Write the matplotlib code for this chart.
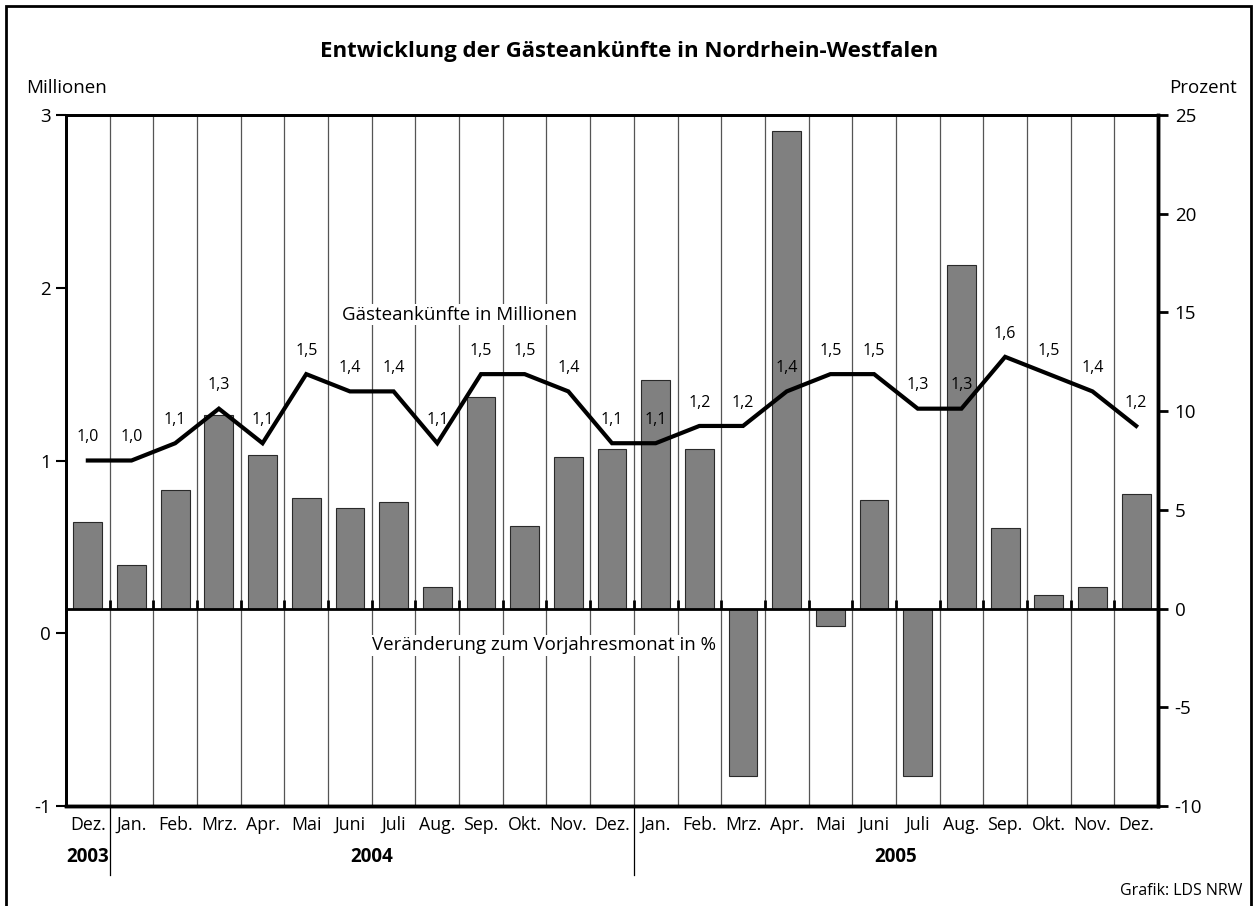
import matplotlib

matplotlib.use("Agg")
import matplotlib.pyplot as plt
from matplotlib.patches import Rectangle

plt.rcParams["font.family"] = ["Open Sans", "DejaVu Sans"]

months = ["Dez.", "Jan.", "Feb.", "Mrz.", "Apr.", "Mai", "Juni", "Juli", "Aug.", "Sep.",
          "Okt.", "Nov.", "Dez.", "Jan.", "Feb.", "Mrz.", "Apr.", "Mai", "Juni", "Juli",
          "Aug.", "Sep.", "Okt.", "Nov.", "Dez."]
arrivals = [1.0, 1.0, 1.1, 1.3, 1.1, 1.5, 1.4, 1.4, 1.1, 1.5, 1.5, 1.4, 1.1,
            1.1, 1.2, 1.2, 1.4, 1.5, 1.5, 1.3, 1.3, 1.6, 1.5, 1.4, 1.2]
change_pct = [4.4, 2.2, 6.0, 9.8, 7.8, 5.6, 5.1, 5.4, 1.1, 10.7, 4.2, 7.7, 8.1,
              11.6, 8.1, -8.5, 24.2, -0.9, 5.5, -8.5, 17.4, 4.1, 0.7, 1.1, 5.8]
years = ["2003", "2004", "2005"]
year_spans = [(0, 0), (1, 12), (13, 24)]

W, H = 1257, 906
fig = plt.figure(figsize=(W / 100, H / 100), dpi=100)

# outer frame
fig.patches.append(Rectangle((6 / W, -0.01), (1251 - 6) / W, 900 / H + 0.01,
                             transform=fig.transFigure, fill=False, lw=2, ec="black"))

x0, x1, y0, y1 = 66, 1158, 115, 806
ax = fig.add_axes([x0 / W, 1 - y1 / H, (x1 - x0) / W, (y1 - y0) / H])
ax2 = ax.twinx()
ax.set_zorder(ax2.get_zorder() + 1)
ax.patch.set_visible(False)

n = len(months)
xs = list(range(n))

# percent bars on right axis
ax2.bar(xs, change_pct, width=0.66, color="#808080", edgecolor="#2a2a2a", lw=0.8, zorder=3)
for b in range(n - 1):
    ax2.axvline(b + 0.5, color="#555555", lw=0.9, zorder=1)
    ax2.vlines(b + 0.5, 0, 0.45, color="black", lw=2, zorder=4)
ax2.axhline(0, color="black", lw=2, zorder=4)
ax2.set_ylim(-10, 25)
ax2.set_yticks([-10, -5, 0, 5, 10, 15, 20, 25])
ax2.set_yticklabels(["-10", "-5", "0", "5", "10", "15", "20", "25"])
ax2.tick_params(axis="y", length=7, width=2, labelsize=13.5, pad=5)

# arrivals line on left axis
ax.plot(xs, arrivals, color="black", lw=3, solid_joinstyle="miter", zorder=5)
for xi, v in zip(xs, arrivals):
    ax.text(xi, v + 0.135, f"{v:.1f}".replace(".", ","), ha="center", va="center",
            fontsize=11.5)
ax.set_xlim(-0.5, n - 0.5)
ax.set_ylim(-1, 3)
ax.set_yticks([-1, 0, 1, 2, 3])
ax.set_yticklabels(["-1", "0", "1", "2", "3"])
ax.tick_params(axis="y", length=7, width=1.5, labelsize=13.5, pad=4)
ax.set_xticks(xs)
ax.set_xticklabels([])
ax.tick_params(axis="x", length=0)

# month labels on a common baseline
for xi, m in zip(xs, months):
    ax.text(xi, -0.035, m, transform=ax.get_xaxis_transform(), ha="center",
            va="baseline", fontsize=12.8)

for a in (ax, ax2):
    a.spines["left"].set_linewidth(2)
    a.spines["right"].set_linewidth(2.5)
    a.spines["top"].set_linewidth(2)
    a.spines["bottom"].set_linewidth(2.5)

# year labels and separators
for name, (s, e) in zip(years, year_spans):
    ax.text((s + e) / 2, -0.074, name, transform=ax.get_xaxis_transform(),
            ha="center", va="center", fontsize=13.5, fontweight="bold")
for s, e in year_spans[1:]:
    ax.plot([s - 0.5, s - 0.5], [0, -0.1], transform=ax.get_xaxis_transform(),
            color="black", lw=0.9, clip_on=False)

box = dict(facecolor="white", edgecolor="none", pad=1)
ax.text(8.5, 1.845, "Gästeankünfte in Millionen", ha="center", va="center",
        fontsize=13.5, bbox=box, zorder=6)
ax.text(10.45, -0.07, "Veränderung zum Vorjahresmonat in %", ha="center", va="center",
        fontsize=13.5, bbox=box, zorder=6)

fig.text(629 / W, 1 - 52 / H, "Entwicklung der Gästeankünfte in Nordrhein-Westfalen",
         ha="center", va="center", fontsize=16, fontweight="bold")
fig.text(67 / W, 1 - 88 / H, "Millionen", ha="center", va="center", fontsize=13.5)
fig.text(1203 / W, 1 - 88 / H, "Prozent", ha="center", va="center", fontsize=13.5)
fig.text(1242 / W, 1 - 891 / H, "Grafik: LDS NRW", ha="right", va="center", fontsize=11.5)

fig.savefig("out.png", dpi=100)
